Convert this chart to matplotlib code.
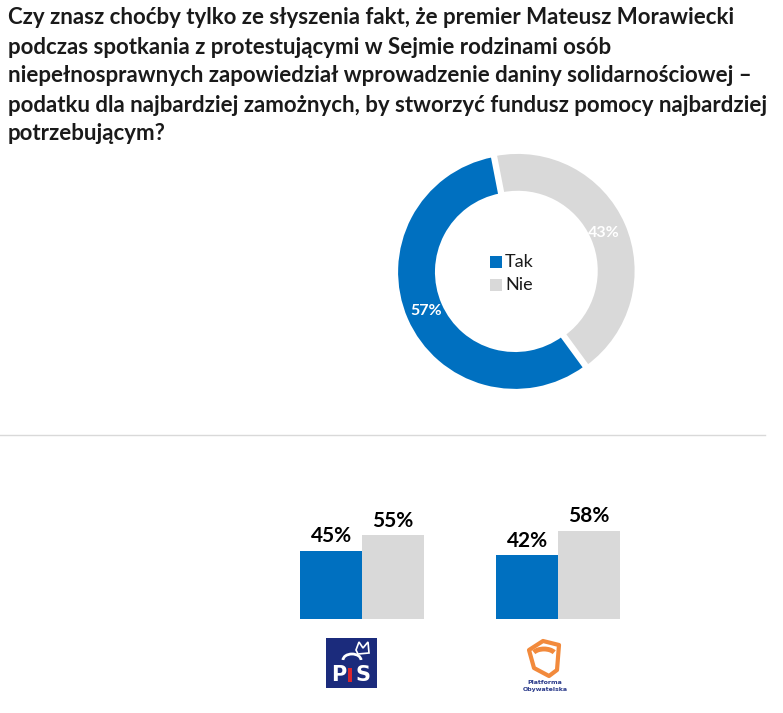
import matplotlib
matplotlib.use("Agg")
import matplotlib.pyplot as plt
from matplotlib.patches import Rectangle, Arc, Polygon
import numpy as np

W, H = 783, 713
DPI = 100

title_lines = [
    "Czy znasz choćby tylko ze słyszenia fakt, że premier Mateusz Morawiecki",
    "podczas spotkania z protestującymi w Sejmie rodzinami osób",
    "niepełnosprawnych zapowiedział wprowadzenie daniny solidarnościowej –",
    "podatku dla najbardziej zamożnych, by stworzyć fundusz pomocy najbardziej",
    "potrzebującym?",
]
answers = ["Tak", "Nie"]
overall = [57, 43]
parties = ["PiS", "PO"]
tak_by_party = [45, 42]
nie_by_party = [55, 58]

BLUE = "#0070C0"
GREY = "#D9D9D9"
TXT = "#1a1a1a"

fig = plt.figure(figsize=(W / DPI, H / DPI), dpi=DPI)

ov = fig.add_axes([0, 0, 1, 1])
ov.set_xlim(0, W)
ov.set_ylim(H, 0)
ov.axis("off")

TFONT = ["Lato", "DejaVu Sans"]

# fit title font size so the longest line spans the same width as the reference
renderer = fig.canvas.get_renderer()
probe = ov.text(0, 0, title_lines[3], fontsize=10, fontweight="bold", family=TFONT)
w10 = probe.get_window_extent(renderer).width
probe.remove()
tsize = 10 * 757 / w10
for i, line in enumerate(title_lines):
    ov.text(8, 18 + i * 29, line, fontsize=tsize, fontweight="bold",
            family=TFONT, color=TXT, va="center", ha="left")

ov.plot([0, 765], [435, 435], color="#D9D9D9", lw=1)

# donut
cx, cy, R = 515, 272, 121
pax = fig.add_axes([(cx - R) / W, (H - cy - R) / H, 2 * R / W, 2 * R / H])
wedges, _ = pax.pie(overall, colors=[BLUE, GREY], startangle=101, counterclock=True,
                    radius=1.0, explode=[0, 0.025],
                    wedgeprops=dict(width=0.34, edgecolor="white", linewidth=2.5))
pax.set_xlim(-1.02, 1.02)
pax.set_ylim(-1.02, 1.02)
pax.set_aspect("equal")
for w, v in zip(wedges, overall):
    th = np.deg2rad((w.theta1 + w.theta2) / 2)
    r = 0.82
    pax.text(r * np.cos(th), r * np.sin(th), f"{v}%", color="white", fontweight="bold",
             fontsize=11.5, ha="center", va="center", family=TFONT)

# legend in center
for i, (lab, col) in enumerate(zip(answers, [BLUE, GREY])):
    y = 262 + i * 23
    ov.add_patch(Rectangle((490, y - 6), 12, 12, color=col, lw=0))
    ov.text(505, y, lab, fontsize=13, color=TXT, va="center", ha="left",
            family=["Lato", "DejaVu Sans"])

# bars
left_px, right_px = 264, 656
bot_px, top_px = 619, 480
bax = fig.add_axes([left_px / W, (H - bot_px) / H, (right_px - left_px) / W, (bot_px - top_px) / H])
x = np.arange(len(parties))
bw = 0.316
b1 = bax.bar(x - bw / 2, tak_by_party, bw, color=BLUE)
b2 = bax.bar(x + bw / 2, nie_by_party, bw, color=GREY)
bax.set_xlim(-0.5, 1.5)
bax.set_ylim(0, (bot_px - top_px) / 1.52)
bax.axis("off")
for bars in (b1, b2):
    for b in bars:
        bax.text(b.get_x() + b.get_width() / 2, b.get_height() + 3, f"{int(b.get_height())}%",
                 ha="center", va="bottom", fontsize=15, fontweight="bold", color="black",
                 family=TFONT)

# PiS logo
ov.add_patch(Rectangle((326, 638), 51, 50, color="#1B2B7C", lw=0))
ov.text(339, 675, "P", color="white", fontsize=15, fontweight="bold", family="DejaVu Sans",
        ha="center", va="center")
ov.add_patch(Rectangle((348, 668), 4, 14, color="#D9262E", lw=0))
ov.text(363, 675, "S", color="white", fontsize=15, fontweight="bold", family="DejaVu Sans",
        ha="center", va="center")
ov.add_patch(Arc((352, 660), 18, 12, theta1=180, theta2=360, color="white", lw=2))
ov.add_patch(Polygon([[356, 650], [359, 642], [363, 648], [368, 642], [369, 653], [358, 654]],
                     closed=True, fill=False, edgecolor="white", lw=1.2))

# PO logo
ov.add_patch(Polygon([[529, 650], [543, 641], [559, 645], [557, 670], [549, 676], [534, 668]],
                     closed=True, fill=False, edgecolor="#F28A3C", lw=3, joinstyle="round"))
ov.add_patch(Arc((544, 656), 24, 14, theta1=200, theta2=340, color="#F28A3C", lw=3.5))
ov.text(545, 683, "Platforma", fontsize=4.5, color="#2A3A8A", ha="center", va="center",
        fontweight="bold")
ov.text(545, 690, "Obywatelska", fontsize=4.5, color="#2A3A8A", ha="center", va="center",
        fontweight="bold")

fig.savefig("out.png", dpi=DPI)
